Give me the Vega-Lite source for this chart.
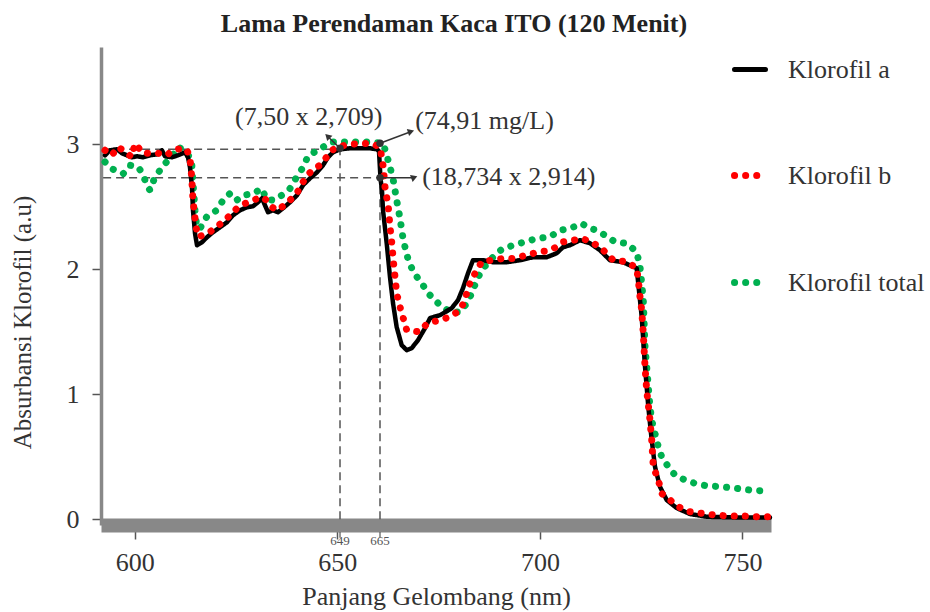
{
  "$schema": "https://vega.github.io/schema/vega-lite/v6.json",
  "width": 670,
  "height": 478,
  "autosize": {"type": "none"},
  "padding": {"left": 101, "top": 47, "right": 159, "bottom": 87},
  "background": "white",
  "title": {"text": "Lama Perendaman Kaca ITO (120 Menit)", "fontSize": 26, "fontWeight": "bold", "font": "Liberation Serif", "color": "#222", "frame": "group", "anchor": "middle", "dx": 18, "dy": 26, "offset": 15, "baseline": "alphabetic"},
  "config": {"view": {"stroke": null}, "font": "Liberation Serif"},
  "datasets": {
    "spectra": [
      {"series": "Klorofil a", "wl": 592.67, "abs": 2.913}, {"series": "Klorofil a", "wl": 593.90, "abs": 2.953}, {"series": "Klorofil a", "wl": 595.63, "abs": 2.961}, {"series": "Klorofil a", "wl": 596.86, "abs": 2.929}, {"series": "Klorofil a", "wl": 598.10, "abs": 2.913}, {"series": "Klorofil a", "wl": 599.33, "abs": 2.897}, {"series": "Klorofil a", "wl": 600.56, "abs": 2.905}, {"series": "Klorofil a", "wl": 602.05, "abs": 2.897}, {"series": "Klorofil a", "wl": 603.77, "abs": 2.913}, {"series": "Klorofil a", "wl": 605.50, "abs": 2.921}, {"series": "Klorofil a", "wl": 606.73, "abs": 2.953}, {"series": "Klorofil a", "wl": 607.47, "abs": 2.905}, {"series": "Klorofil a", "wl": 609.20, "abs": 2.897}, {"series": "Klorofil a", "wl": 610.68, "abs": 2.913}, {"series": "Klorofil a", "wl": 612.41, "abs": 2.937}, {"series": "Klorofil a", "wl": 613.15, "abs": 2.897}, {"series": "Klorofil a", "wl": 613.64, "abs": 2.817}, {"series": "Klorofil a", "wl": 614.14, "abs": 2.657}, {"series": "Klorofil a", "wl": 614.38, "abs": 2.473}, {"series": "Klorofil a", "wl": 614.88, "abs": 2.289}, {"series": "Klorofil a", "wl": 615.37, "abs": 2.193}, {"series": "Klorofil a", "wl": 616.61, "abs": 2.217}, {"series": "Klorofil a", "wl": 617.84, "abs": 2.257}, {"series": "Klorofil a", "wl": 619.32, "abs": 2.297}, {"series": "Klorofil a", "wl": 621.05, "abs": 2.337}, {"series": "Klorofil a", "wl": 622.78, "abs": 2.377}, {"series": "Klorofil a", "wl": 624.26, "abs": 2.433}, {"series": "Klorofil a", "wl": 625.98, "abs": 2.473}, {"series": "Klorofil a", "wl": 627.71, "abs": 2.497}, {"series": "Klorofil a", "wl": 629.19, "abs": 2.505}, {"series": "Klorofil a", "wl": 630.43, "abs": 2.537}, {"series": "Klorofil a", "wl": 631.41, "abs": 2.569}, {"series": "Klorofil a", "wl": 632.15, "abs": 2.513}, {"series": "Klorofil a", "wl": 632.90, "abs": 2.457}, {"series": "Klorofil a", "wl": 634.13, "abs": 2.473}, {"series": "Klorofil a", "wl": 635.36, "abs": 2.457}, {"series": "Klorofil a", "wl": 636.60, "abs": 2.489}, {"series": "Klorofil a", "wl": 638.32, "abs": 2.537}, {"series": "Klorofil a", "wl": 640.05, "abs": 2.593}, {"series": "Klorofil a", "wl": 641.53, "abs": 2.673}, {"series": "Klorofil a", "wl": 643.26, "abs": 2.729}, {"series": "Klorofil a", "wl": 644.99, "abs": 2.777}, {"series": "Klorofil a", "wl": 646.47, "abs": 2.833}, {"series": "Klorofil a", "wl": 647.70, "abs": 2.897}, {"series": "Klorofil a", "wl": 648.94, "abs": 2.937}, {"series": "Klorofil a", "wl": 650.67, "abs": 2.961}, {"series": "Klorofil a", "wl": 653.13, "abs": 2.969}, {"series": "Klorofil a", "wl": 655.60, "abs": 2.969}, {"series": "Klorofil a", "wl": 658.07, "abs": 2.969}, {"series": "Klorofil a", "wl": 659.80, "abs": 2.961}, {"series": "Klorofil a", "wl": 660.29, "abs": 2.945}, {"series": "Klorofil a", "wl": 660.66, "abs": 2.729}, {"series": "Klorofil a", "wl": 661.03, "abs": 2.633}, {"series": "Klorofil a", "wl": 661.28, "abs": 2.473}, {"series": "Klorofil a", "wl": 662.19, "abs": 2.209}, {"series": "Klorofil a", "wl": 663.01, "abs": 1.937}, {"series": "Klorofil a", "wl": 663.75, "abs": 1.729}, {"series": "Klorofil a", "wl": 664.66, "abs": 1.537}, {"series": "Klorofil a", "wl": 665.89, "abs": 1.393}, {"series": "Klorofil a", "wl": 667.13, "abs": 1.353}, {"series": "Klorofil a", "wl": 668.36, "abs": 1.369}, {"series": "Klorofil a", "wl": 669.92, "abs": 1.433}, {"series": "Klorofil a", "wl": 671.64, "abs": 1.529}, {"series": "Klorofil a", "wl": 672.88, "abs": 1.609}, {"series": "Klorofil a", "wl": 675.35, "abs": 1.633}, {"series": "Klorofil a", "wl": 678.23, "abs": 1.689}, {"series": "Klorofil a", "wl": 679.79, "abs": 1.753}, {"series": "Klorofil a", "wl": 681.02, "abs": 1.849}, {"series": "Klorofil a", "wl": 682.26, "abs": 1.969}, {"series": "Klorofil a", "wl": 683.49, "abs": 2.073}, {"series": "Klorofil a", "wl": 685.96, "abs": 2.073}, {"series": "Klorofil a", "wl": 688.43, "abs": 2.057}, {"series": "Klorofil a", "wl": 691.81, "abs": 2.057}, {"series": "Klorofil a", "wl": 695.09, "abs": 2.073}, {"series": "Klorofil a", "wl": 698.30, "abs": 2.097}, {"series": "Klorofil a", "wl": 701.68, "abs": 2.097}, {"series": "Klorofil a", "wl": 704.15, "abs": 2.129}, {"series": "Klorofil a", "wl": 705.70, "abs": 2.177}, {"series": "Klorofil a", "wl": 707.43, "abs": 2.193}, {"series": "Klorofil a", "wl": 709.90, "abs": 2.233}, {"series": "Klorofil a", "wl": 712.37, "abs": 2.209}, {"series": "Klorofil a", "wl": 714.83, "abs": 2.153}, {"series": "Klorofil a", "wl": 717.30, "abs": 2.073}, {"series": "Klorofil a", "wl": 720.51, "abs": 2.057}, {"series": "Klorofil a", "wl": 723.89, "abs": 2.009}, {"series": "Klorofil a", "wl": 725.13, "abs": 1.619}, {"series": "Klorofil a", "wl": 725.95, "abs": 1.219}, {"series": "Klorofil a", "wl": 726.76, "abs": 0.899}, {"series": "Klorofil a", "wl": 727.60, "abs": 0.633}, {"series": "Klorofil a", "wl": 728.41, "abs": 0.419}, {"series": "Klorofil a", "wl": 729.64, "abs": 0.259}, {"series": "Klorofil a", "wl": 731.30, "abs": 0.153}, {"series": "Klorofil a", "wl": 733.76, "abs": 0.089}, {"series": "Klorofil a", "wl": 737.05, "abs": 0.041}, {"series": "Klorofil a", "wl": 741.17, "abs": 0.019}, {"series": "Klorofil a", "wl": 747.66, "abs": 0.014}, {"series": "Klorofil a", "wl": 756.79, "abs": 0.014},
      {"series": "Klorofil b", "wl": 592.67, "abs": 2.953}, {"series": "Klorofil b", "wl": 594.32, "abs": 2.913}, {"series": "Klorofil b", "wl": 595.95, "abs": 2.980}, {"series": "Klorofil b", "wl": 597.60, "abs": 2.940}, {"series": "Klorofil b", "wl": 599.26, "abs": 2.900}, {"series": "Klorofil b", "wl": 600.07, "abs": 3.007}, {"series": "Klorofil b", "wl": 602.12, "abs": 2.927}, {"series": "Klorofil b", "wl": 604.19, "abs": 2.932}, {"series": "Klorofil b", "wl": 605.75, "abs": 2.929}, {"series": "Klorofil b", "wl": 607.89, "abs": 2.913}, {"series": "Klorofil b", "wl": 609.45, "abs": 2.953}, {"series": "Klorofil b", "wl": 611.59, "abs": 2.969}, {"series": "Klorofil b", "wl": 612.83, "abs": 2.961}, {"series": "Klorofil b", "wl": 613.64, "abs": 2.889}, {"series": "Klorofil b", "wl": 614.06, "abs": 2.740}, {"series": "Klorofil b", "wl": 614.38, "abs": 2.553}, {"series": "Klorofil b", "wl": 615.12, "abs": 2.340}, {"series": "Klorofil b", "wl": 615.69, "abs": 2.260}, {"series": "Klorofil b", "wl": 616.85, "abs": 2.273}, {"series": "Klorofil b", "wl": 618.58, "abs": 2.300}, {"series": "Klorofil b", "wl": 620.23, "abs": 2.340}, {"series": "Klorofil b", "wl": 621.79, "abs": 2.380}, {"series": "Klorofil b", "wl": 623.52, "abs": 2.433}, {"series": "Klorofil b", "wl": 625.17, "abs": 2.487}, {"series": "Klorofil b", "wl": 627.22, "abs": 2.527}, {"series": "Klorofil b", "wl": 629.19, "abs": 2.553}, {"series": "Klorofil b", "wl": 631.34, "abs": 2.580}, {"series": "Klorofil b", "wl": 632.57, "abs": 2.553}, {"series": "Klorofil b", "wl": 633.81, "abs": 2.500}, {"series": "Klorofil b", "wl": 635.04, "abs": 2.473}, {"series": "Klorofil b", "wl": 636.60, "abs": 2.505}, {"series": "Klorofil b", "wl": 638.32, "abs": 2.553}, {"series": "Klorofil b", "wl": 639.98, "abs": 2.607}, {"series": "Klorofil b", "wl": 641.53, "abs": 2.700}, {"series": "Klorofil b", "wl": 643.68, "abs": 2.793}, {"series": "Klorofil b", "wl": 645.73, "abs": 2.833}, {"series": "Klorofil b", "wl": 647.39, "abs": 2.900}, {"series": "Klorofil b", "wl": 648.62, "abs": 2.953}, {"series": "Klorofil b", "wl": 650.25, "abs": 2.980}, {"series": "Klorofil b", "wl": 652.71, "abs": 3.001}, {"series": "Klorofil b", "wl": 655.60, "abs": 3.007}, {"series": "Klorofil b", "wl": 658.49, "abs": 3.007}, {"series": "Klorofil b", "wl": 660.54, "abs": 2.980}, {"series": "Klorofil b", "wl": 661.35, "abs": 2.820}, {"series": "Klorofil b", "wl": 661.77, "abs": 2.660}, {"series": "Klorofil b", "wl": 662.59, "abs": 2.500}, {"series": "Klorofil b", "wl": 663.01, "abs": 2.340}, {"series": "Klorofil b", "wl": 663.42, "abs": 2.220}, {"series": "Klorofil b", "wl": 663.82, "abs": 2.073}, {"series": "Klorofil b", "wl": 664.24, "abs": 1.940}, {"series": "Klorofil b", "wl": 664.66, "abs": 1.807}, {"series": "Klorofil b", "wl": 665.47, "abs": 1.700}, {"series": "Klorofil b", "wl": 667.13, "abs": 1.513}, {"series": "Klorofil b", "wl": 670.01, "abs": 1.500}, {"series": "Klorofil b", "wl": 672.46, "abs": 1.571}, {"series": "Klorofil b", "wl": 675.35, "abs": 1.593}, {"series": "Klorofil b", "wl": 677.81, "abs": 1.620}, {"series": "Klorofil b", "wl": 680.28, "abs": 1.673}, {"series": "Klorofil b", "wl": 681.52, "abs": 1.753}, {"series": "Klorofil b", "wl": 682.33, "abs": 1.860}, {"series": "Klorofil b", "wl": 683.98, "abs": 1.967}, {"series": "Klorofil b", "wl": 685.64, "abs": 2.060}, {"series": "Klorofil b", "wl": 688.10, "abs": 2.073}, {"series": "Klorofil b", "wl": 690.97, "abs": 2.087}, {"series": "Klorofil b", "wl": 693.44, "abs": 2.087}, {"series": "Klorofil b", "wl": 696.74, "abs": 2.113}, {"series": "Klorofil b", "wl": 699.61, "abs": 2.140}, {"series": "Klorofil b", "wl": 702.07, "abs": 2.148}, {"series": "Klorofil b", "wl": 704.96, "abs": 2.193}, {"series": "Klorofil b", "wl": 705.78, "abs": 2.220}, {"series": "Klorofil b", "wl": 708.24, "abs": 2.233}, {"series": "Klorofil b", "wl": 710.32, "abs": 2.247}, {"series": "Klorofil b", "wl": 712.79, "abs": 2.220}, {"series": "Klorofil b", "wl": 715.65, "abs": 2.153}, {"series": "Klorofil b", "wl": 718.12, "abs": 2.073}, {"series": "Klorofil b", "wl": 721.42, "abs": 2.060}, {"series": "Klorofil b", "wl": 723.89, "abs": 2.009}, {"series": "Klorofil b", "wl": 724.29, "abs": 1.913}, {"series": "Klorofil b", "wl": 724.71, "abs": 1.780}, {"series": "Klorofil b", "wl": 725.13, "abs": 1.673}, {"series": "Klorofil b", "wl": 725.52, "abs": 1.487}, {"series": "Klorofil b", "wl": 725.95, "abs": 1.219}, {"series": "Klorofil b", "wl": 726.36, "abs": 1.033}, {"series": "Klorofil b", "wl": 727.17, "abs": 0.793}, {"series": "Klorofil b", "wl": 727.60, "abs": 0.633}, {"series": "Klorofil b", "wl": 727.99, "abs": 0.419}, {"series": "Klorofil b", "wl": 729.23, "abs": 0.313}, {"series": "Klorofil b", "wl": 730.06, "abs": 0.206}, {"series": "Klorofil b", "wl": 732.11, "abs": 0.153}, {"series": "Klorofil b", "wl": 734.16, "abs": 0.099}, {"series": "Klorofil b", "wl": 737.05, "abs": 0.059}, {"series": "Klorofil b", "wl": 739.93, "abs": 0.046}, {"series": "Klorofil b", "wl": 743.22, "abs": 0.033}, {"series": "Klorofil b", "wl": 746.50, "abs": 0.025}, {"series": "Klorofil b", "wl": 750.20, "abs": 0.025}, {"series": "Klorofil b", "wl": 753.51, "abs": 0.019}, {"series": "Klorofil b", "wl": 756.37, "abs": 0.019},
      {"series": "Klorofil total", "wl": 592.67, "abs": 2.860}, {"series": "Klorofil total", "wl": 594.32, "abs": 2.807}, {"series": "Klorofil total", "wl": 595.95, "abs": 2.780}, {"series": "Klorofil total", "wl": 597.18, "abs": 2.767}, {"series": "Klorofil total", "wl": 598.83, "abs": 2.833}, {"series": "Klorofil total", "wl": 600.88, "abs": 2.820}, {"series": "Klorofil total", "wl": 602.12, "abs": 2.753}, {"series": "Klorofil total", "wl": 602.95, "abs": 2.673}, {"series": "Klorofil total", "wl": 603.77, "abs": 2.633}, {"series": "Klorofil total", "wl": 605.01, "abs": 2.740}, {"series": "Klorofil total", "wl": 606.24, "abs": 2.793}, {"series": "Klorofil total", "wl": 607.47, "abs": 2.847}, {"series": "Klorofil total", "wl": 609.13, "abs": 2.900}, {"series": "Klorofil total", "wl": 610.76, "abs": 2.980}, {"series": "Klorofil total", "wl": 612.00, "abs": 2.953}, {"series": "Klorofil total", "wl": 613.23, "abs": 2.913}, {"series": "Klorofil total", "wl": 614.06, "abs": 2.860}, {"series": "Klorofil total", "wl": 614.20, "abs": 2.769}, {"series": "Klorofil total", "wl": 614.46, "abs": 2.660}, {"series": "Klorofil total", "wl": 614.88, "abs": 2.473}, {"series": "Klorofil total", "wl": 615.30, "abs": 2.340}, {"series": "Klorofil total", "wl": 616.11, "abs": 2.327}, {"series": "Klorofil total", "wl": 617.77, "abs": 2.420}, {"series": "Klorofil total", "wl": 620.23, "abs": 2.473}, {"series": "Klorofil total", "wl": 621.79, "abs": 2.553}, {"series": "Klorofil total", "wl": 623.52, "abs": 2.607}, {"series": "Klorofil total", "wl": 625.17, "abs": 2.553}, {"series": "Klorofil total", "wl": 626.80, "abs": 2.593}, {"series": "Klorofil total", "wl": 629.27, "abs": 2.607}, {"series": "Klorofil total", "wl": 631.34, "abs": 2.647}, {"series": "Klorofil total", "wl": 632.57, "abs": 2.559}, {"series": "Klorofil total", "wl": 634.20, "abs": 2.553}, {"series": "Klorofil total", "wl": 636.28, "abs": 2.593}, {"series": "Klorofil total", "wl": 638.32, "abs": 2.647}, {"series": "Klorofil total", "wl": 639.98, "abs": 2.740}, {"series": "Klorofil total", "wl": 641.61, "abs": 2.820}, {"series": "Klorofil total", "wl": 642.85, "abs": 2.913}, {"series": "Klorofil total", "wl": 644.50, "abs": 2.940}, {"series": "Klorofil total", "wl": 646.55, "abs": 2.980}, {"series": "Klorofil total", "wl": 648.62, "abs": 3.020}, {"series": "Klorofil total", "wl": 651.48, "abs": 3.020}, {"series": "Klorofil total", "wl": 654.79, "abs": 3.020}, {"series": "Klorofil total", "wl": 658.07, "abs": 3.020}, {"series": "Klorofil total", "wl": 661.35, "abs": 3.007}, {"series": "Klorofil total", "wl": 662.19, "abs": 2.913}, {"series": "Klorofil total", "wl": 663.01, "abs": 2.820}, {"series": "Klorofil total", "wl": 663.82, "abs": 2.713}, {"series": "Klorofil total", "wl": 664.66, "abs": 2.553}, {"series": "Klorofil total", "wl": 665.47, "abs": 2.409}, {"series": "Klorofil total", "wl": 666.29, "abs": 2.233}, {"series": "Klorofil total", "wl": 667.53, "abs": 2.073}, {"series": "Klorofil total", "wl": 668.76, "abs": 1.980}, {"series": "Klorofil total", "wl": 670.83, "abs": 1.887}, {"series": "Klorofil total", "wl": 672.88, "abs": 1.793}, {"series": "Klorofil total", "wl": 675.35, "abs": 1.713}, {"series": "Klorofil total", "wl": 677.81, "abs": 1.659}, {"series": "Klorofil total", "wl": 680.28, "abs": 1.659}, {"series": "Klorofil total", "wl": 681.93, "abs": 1.727}, {"series": "Klorofil total", "wl": 683.17, "abs": 1.807}, {"series": "Klorofil total", "wl": 684.40, "abs": 1.913}, {"series": "Klorofil total", "wl": 685.64, "abs": 1.993}, {"series": "Klorofil total", "wl": 687.69, "abs": 2.073}, {"series": "Klorofil total", "wl": 689.74, "abs": 2.140}, {"series": "Klorofil total", "wl": 690.97, "abs": 2.167}, {"series": "Klorofil total", "wl": 693.44, "abs": 2.193}, {"series": "Klorofil total", "wl": 696.33, "abs": 2.220}, {"series": "Klorofil total", "wl": 699.21, "abs": 2.247}, {"series": "Klorofil total", "wl": 702.49, "abs": 2.260}, {"series": "Klorofil total", "wl": 704.96, "abs": 2.313}, {"series": "Klorofil total", "wl": 707.43, "abs": 2.327}, {"series": "Klorofil total", "wl": 710.32, "abs": 2.367}, {"series": "Klorofil total", "wl": 712.37, "abs": 2.327}, {"series": "Klorofil total", "wl": 714.02, "abs": 2.313}, {"series": "Klorofil total", "wl": 716.07, "abs": 2.273}, {"series": "Klorofil total", "wl": 718.54, "abs": 2.220}, {"series": "Klorofil total", "wl": 721.42, "abs": 2.207}, {"series": "Klorofil total", "wl": 723.89, "abs": 2.140}, {"series": "Klorofil total", "wl": 724.71, "abs": 2.020}, {"series": "Klorofil total", "wl": 725.13, "abs": 1.887}, {"series": "Klorofil total", "wl": 725.52, "abs": 1.753}, {"series": "Klorofil total", "wl": 725.70, "abs": 1.593}, {"series": "Klorofil total", "wl": 725.95, "abs": 1.379}, {"series": "Klorofil total", "wl": 726.36, "abs": 1.219}, {"series": "Klorofil total", "wl": 726.76, "abs": 1.059}, {"series": "Klorofil total", "wl": 727.17, "abs": 0.899}, {"series": "Klorofil total", "wl": 727.60, "abs": 0.793}, {"series": "Klorofil total", "wl": 728.41, "abs": 0.686}, {"series": "Klorofil total", "wl": 729.23, "abs": 0.579}, {"series": "Klorofil total", "wl": 730.06, "abs": 0.499}, {"series": "Klorofil total", "wl": 731.69, "abs": 0.419}, {"series": "Klorofil total", "wl": 733.34, "abs": 0.353}, {"series": "Klorofil total", "wl": 735.81, "abs": 0.313}, {"series": "Klorofil total", "wl": 738.28, "abs": 0.286}, {"series": "Klorofil total", "wl": 741.17, "abs": 0.267}, {"series": "Klorofil total", "wl": 744.87, "abs": 0.259}, {"series": "Klorofil total", "wl": 748.57, "abs": 0.246}, {"series": "Klorofil total", "wl": 751.86, "abs": 0.233}, {"series": "Klorofil total", "wl": 754.74, "abs": 0.227}
    ],
    "dashes": [
      {"wl": 592.2, "wl2": 650.67, "abs": 2.961, "abs2": 2.961},
      {"wl": 592.2, "wl2": 660.54, "abs": 2.733, "abs2": 2.733},
      {"wl": 650.67, "wl2": 650.67, "abs": 0, "abs2": 2.961},
      {"wl": 660.54, "wl2": 660.54, "abs": 0, "abs2": 2.733}
    ],
    "arrows": [
      {"wl": 650.67, "abs": 2.969, "wl2": 647.78, "abs2": 3.060, "dir": "up-left"},
      {"wl": 660.54, "abs": 3.009, "wl2": 667.94, "abs2": 3.100, "dir": "up-right"},
      {"wl": 660.54, "abs": 2.733, "wl2": 668.76, "abs2": 2.733, "dir": "right"}
    ],
    "marked": [
      {"wl": 650.67, "abs": 2.969},
      {"wl": 660.54, "abs": 3.009},
      {"wl": 660.54, "abs": 2.733}
    ],
    "notes": [
      {"wl": 624.75, "abs": 3.217, "label": "(7,50 x 2,709)"},
      {"wl": 669.22, "abs": 3.185, "label": "(74,91 mg/L)"},
      {"wl": 670.95, "abs": 2.737, "label": "(18,734 x 2,914)"}
    ],
    "axisnotes": [
      {"wl": 650.67, "abs": -0.104, "abs2": -0.150, "labelpos": -0.178, "label": "649"},
      {"wl": 660.54, "abs": -0.104, "abs2": -0.150, "labelpos": -0.178, "label": "665"}
    ]
  },
  "encoding": {
    "x": {"field": "wl", "type": "quantitative",
      "scale": {"domain": [591.68, 757.04], "nice": false, "zero": false},
      "axis": {"values": [600, 650, 700, 750], "grid": false, "domainColor": "#888888", "domainWidth": 14, "domainCap": "butt", "tickColor": "#555555", "tickSize": 14, "tickWidth": 1.5, "labelFontSize": 26, "labelColor": "#333333", "labelBaseline": "middle", "labelPadding": 23, "labelFont": "Liberation Serif", "title": "Panjang Gelombang (nm)", "titleFontSize": 26, "titleFontWeight": "normal", "titleColor": "#333333", "titleFont": "Liberation Serif", "titleBaseline": "middle", "titleY": 71}},
    "y": {"field": "abs", "type": "quantitative",
      "scale": {"domain": [-0.047, 3.78], "nice": false, "zero": false},
      "axis": {"values": [0, 1, 2, 3], "grid": false, "domainColor": "#888888", "domainWidth": 3.5, "tickColor": "#555555", "tickSize": 9, "tickWidth": 1.5, "labelFontSize": 26, "labelColor": "#333333", "labelPadding": 13, "labelFont": "Liberation Serif", "title": "Absurbansi Klorofil (a.u)", "titleFontSize": 25, "titleFontWeight": "normal", "titleColor": "#333333", "titleFont": "Liberation Serif", "titleX": -79, "titleY": 275, "titleBaseline": "middle", "titleAlign": "center", "titleAngle": -90}}
  },
  "layer": [
    {"data": {"name": "dashes"}, "mark": {"type": "rule", "color": "#555555", "strokeWidth": 1.5, "strokeDash": [8, 5]}, "encoding": {"x2": {"field": "wl2"}, "y2": {"field": "abs2"}}},
    {"data": {"name": "spectra"}, "transform": [{"filter": "datum.series === 'Klorofil total'"}], "mark": {"type": "line", "strokeWidth": 7, "strokeCap": "round", "strokeJoin": "round"},
      "encoding": {
        "color": {"field": "series", "type": "nominal", "scale": {"domain": ["Klorofil a", "Klorofil b", "Klorofil total"], "range": ["#000000", "#ff0000", "#00b050"]},
          "legend": {"title": null, "orient": "none", "legendX": 636, "legendY": 9.5, "symbolType": "stroke", "symbolSize": 961, "labelFontSize": 26, "labelFont": "Liberation Serif", "labelColor": "#333333", "labelOffset": 25, "rowPadding": 79, "padding": 0, "labelLimit": 300,
            "encode": {"symbols": {"update": {"strokeWidth": {"signal": "datum.value === 'Klorofil a' ? 5 : 7"}, "strokeCap": {"value": "round"}}}}}},
        "strokeDash": {"field": "series", "type": "nominal", "scale": {"domain": ["Klorofil a", "Klorofil b", "Klorofil total"], "range": [[1, 0], [0.1, 11], [0.1, 11]]}}
      }},
    {"data": {"name": "spectra"}, "transform": [{"filter": "datum.series === 'Klorofil a'"}], "mark": {"type": "line", "strokeWidth": 4.5, "strokeCap": "round", "strokeJoin": "round"},
      "encoding": {
        "color": {"field": "series", "type": "nominal"},
        "strokeDash": {"field": "series", "type": "nominal"}
      }},
    {"data": {"name": "spectra"}, "transform": [{"filter": "datum.series === 'Klorofil b'"}], "mark": {"type": "line", "strokeWidth": 7, "strokeCap": "round", "strokeJoin": "round"},
      "encoding": {
        "color": {"field": "series", "type": "nominal"},
        "strokeDash": {"field": "series", "type": "nominal"}
      }},
    {"data": {"name": "arrows"}, "mark": {"type": "rule", "color": "#333333", "strokeWidth": 1.5}, "encoding": {"x2": {"field": "wl2"}, "y2": {"field": "abs2"}}},
    {"data": {"name": "arrows"}, "mark": {"type": "point", "shape": "triangle", "filled": true, "color": "#333333", "size": 55, "opacity": 1},
      "encoding": {"x": {"field": "wl2", "type": "quantitative"}, "y": {"field": "abs2", "type": "quantitative"},
        "angle": {"field": "dir", "type": "nominal", "scale": {"domain": ["up-left", "up-right", "right"], "range": [315, 69, 90]}, "legend": null}}},
    {"data": {"name": "marked"}, "mark": {"type": "point", "shape": "circle", "filled": true, "color": "#333333", "size": 55, "opacity": 1}},
    {"data": {"name": "notes"}, "mark": {"type": "text", "align": "left", "baseline": "middle", "fontSize": 26, "font": "Liberation Serif", "color": "#333333"}, "encoding": {"text": {"field": "label"}}},
    {"data": {"name": "axisnotes"}, "mark": {"type": "rule", "color": "#555555", "strokeWidth": 1.2}, "encoding": {"y2": {"field": "abs2"}}},
    {"data": {"name": "axisnotes"}, "mark": {"type": "text", "align": "center", "baseline": "middle", "fontSize": 13, "font": "Liberation Serif", "color": "#555555"}, "encoding": {"y": {"field": "labelpos", "type": "quantitative"}, "text": {"field": "label"}}}
  ]
}
